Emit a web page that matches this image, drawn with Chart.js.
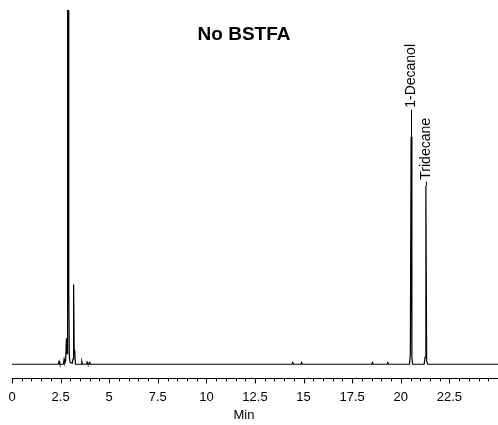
<!DOCTYPE html>
<html>
<head>
<meta charset="utf-8">
<script src="https://cdn.jsdelivr.net/npm/chart.js@4.4.1/dist/chart.umd.min.js"></script>
<style>
  html, body { margin: 0; padding: 0; background: #fff; }
  #wrap { width: 498px; height: 425px; position: relative; }
</style>
</head>
<body>
<div id="wrap"><canvas id="gcChart" width="498" height="425"></canvas></div>
<script>
// chromatogram trace, retention time (min) vs detector response
const times = [0, 2.38, 2.42, 2.46, 2.64, 2.68, 2.72, 2.76, 2.80, 2.83, 2.85, 2.87, 2.90, 2.92, 2.95, 2.99,
               3.10, 3.14, 3.17, 3.20, 3.23, 3.26, 3.55, 3.59, 3.63, 3.82, 3.86, 3.90, 3.96, 4.00, 4.04,
               14.40, 14.44, 14.48, 14.86, 14.90, 14.94, 18.50, 18.54, 18.58, 19.29, 19.33, 19.37,
               20.45, 20.49, 20.53, 20.57, 20.61, 21.20, 21.25, 21.29, 21.33, 21.38, 25];
const response = [0, 0, 0.8, 0, 0, 1.4, 0.3, 1, 7.3, 3, 12, 150, 150, 20, 2, 0.5,
                  0.3, 1.5, 22.5, 4, 3.5, 0, 0, 0.8, 0, 0, 0.6, 0, 0, 0.5, 0,
                  0, 0.5, 0, 0, 0.5, 0, 0, 0.5, 0, 0, 0.5, 0,
                  0, 3, 64.2, 2, 0, 0, 2, 50.4, 1, 0, 0];

const peakNames = ['1-Decanol', 'Tridecane'];
const peakTimes = [20.53, 21.29];
const peakHeights = [64.2, 50.4];
const leaderLengths = [27, 4];

const tickValues = [0, 2.5, 5, 7.5, 10, 12.5, 15, 17.5, 20, 22.5];
const minorStep = 0.5;

const fontFamily = "'Liberation Sans', Arial, sans-serif";

// minor/major ticks under the axis line, titles, peak labels
const decorPlugin = {
    id: 'decor',
    afterDraw(chart) {
        const ctx = chart.ctx;
        const xs = chart.scales.x;
        const ys = chart.scales.y;
        const axisY = chart.chartArea.bottom;
        ctx.save();
        ctx.strokeStyle = '#000';
        ctx.lineWidth = 1;
        for (let t = 0; t <= xs.max + 1e-9; t += minorStep) {
            const major = tickValues.some(v => Math.abs(v - t) < 1e-6);
            const px = Math.round(xs.getPixelForValue(t)) + 0.5;
            ctx.beginPath();
            ctx.moveTo(px, axisY);
            ctx.lineTo(px, axisY + (major ? 5 : 3));
            ctx.stroke();
        }

        ctx.fillStyle = '#000';
        ctx.textAlign = 'center';
        ctx.textBaseline = 'middle';
        ctx.font = 'bold 19px ' + fontFamily;
        ctx.fillText('No BSTFA', 244, 35);

        ctx.font = '13px ' + fontFamily;
        ctx.fillText('Min', 244, 415);

        // peak labels
        ctx.font = '14px ' + fontFamily;
        ctx.textAlign = 'left';
        peakNames.forEach((name, i) => {
            const px = Math.round(xs.getPixelForValue(peakTimes[i])) + 0.5;
            const py = ys.getPixelForValue(peakHeights[i]);
            const top = py - leaderLengths[i];
            ctx.beginPath();
            ctx.moveTo(px, py);
            ctx.lineTo(px, top);
            ctx.stroke();
            ctx.save();
            ctx.translate(px, top - 2);
            ctx.rotate(-Math.PI / 2);
            ctx.fillText(name, 0, 0);
            ctx.restore();
        });
        ctx.restore();
    }
};

const ctx = document.getElementById('gcChart').getContext('2d');
new Chart(ctx, {
    type: 'line',
    data: {
        datasets: [{
            data: times.map((t, i) => ({ x: t, y: response[i] })),
            borderColor: '#000',
            borderWidth: 1.2,
            pointRadius: 0,
            tension: 0,
            fill: false
        }]
    },
    options: {
        responsive: false,
        animation: false,
        layout: { padding: { left: 12, right: 0, top: 10, bottom: 14 } },
        plugins: {
            legend: { display: false },
            tooltip: { enabled: false },
            title: { display: false }
        },
        scales: {
            x: {
                type: 'linear',
                min: 0,
                max: 25,
                afterBuildTicks: axis => { axis.ticks = tickValues.map(v => ({ value: v })); },
                grid: { display: false, drawTicks: true, tickLength: 5 },
                border: { display: true, color: '#000', width: 1 },
                ticks: {
                    color: '#000',
                    padding: 6,
                    maxRotation: 0,
                    autoSkip: false,
                    font: { size: 13, family: fontFamily },
                    callback: v => String(v)
                },
                title: { display: false }
            },
            y: {
                display: false,
                min: -4,
                max: 100
            }
        }
    },
    plugins: [decorPlugin]
});
</script>
</body>
</html>
